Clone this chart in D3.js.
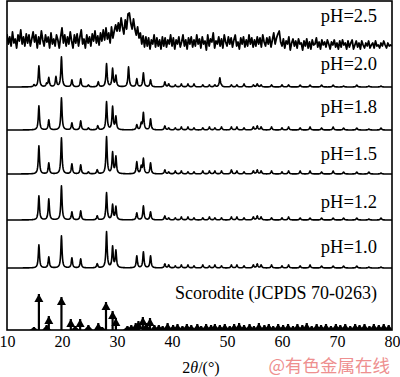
<!DOCTYPE html>
<html>
<head>
<meta charset="utf-8">
<script src="https://cdn.jsdelivr.net/npm/d3@7"></script>
<style>
  body { margin: 0; background: #fff; }
</style>
</head>
<body>
<div id="root"></div>
<script>
const width = 400;
const height = 377;

// ---- data ----
const thetaTicks = [10, 20, 30, 40, 50, 60, 70, 80];
const sampleLabels = ["pH=2.5", "pH=2.0", "pH=1.8", "pH=1.5", "pH=1.2", "pH=1.0"];
const refLabel = "Scorodite (JCPDS 70-0263)";

// pH=2.5 (amorphous), intensity read every 0.25° from 10° to 80°
const amorphousStep = 0.25;
const amorphous25 = [
	13, 3, 10, 1, 15, 4, 8, -1, 12, 6, 17, 3, 10, 1, 13, 4, 12, 1, 8, 15,
	5, 12, -1, 10, 3, 16, 7, 1, 12, 5, 10, -1, 14, 3, 8, 1, 12, 7, -1, 10,
	19, 4, 12, 1, 10, 3, 15, 6, -1, 12, 4, 13, 1, 10, 17, 3, 8, -1, 12, 4,
	10, 1, 13, 6, 16, 4, 11, 2, 14, 6, 17, 7, 19, 8, 14, 4, 20, 9, 16, 22,
	16, 24, 16, 29, 20, 13, 27, 18, 33, 34, 24, 18, 28, 18, 12, 20, 9, 14, 3, 11,
	0, 10, 1, 9, -2, 7, 3, 12, 0, 9, 1, 7, -2, 10, 1, 9, 0, 7, 3, 12,
	1, 9, -2, 7, 3, 10, 0, 5, 12, 1, 7, -2, 9, 3, 10, 0, 7, 1, 12, 3,
	8, -1, 10, 3, 6, -3, 12, 1, 8, 5, 14, -1, 6, 3, 10, 1, 8, -1, 12, 5,
	1, 10, 3, 9, 0, 7, 12, 1, 5, -2, 9, 3, 10, 0, 7, 1, 12, 3, 9, 0,
	7, 1, 10, 3, 9, 0, 12, 5, 1, 9, 3, 10, 0, 7, 14, 3, 9, 13, 16, 5,
	1, 8, -1, 6, 3, 10, -3, 4, 8, 1, 6, -1, 8, 3, 4, -3, 6, 1, 8, -1,
	5, -2, 7, 2, 3, 9, 0, 5, -2, 7, 2, 5, 0, 7, 3, -2, 5, 2, 7, 0,
	4, -2, 6, 0, 7, 2, 4, -2, 6, 0, 4, 7, -2, 2, 6, 0, 4, -2, 6, 2,
	-1, 4, 1, 6, -1, 2, 4, -1, 6, 1, 2, -1, 4, 1, 6, 2, -1, 4, 1, 2,
	1
];

// main reflections [2θ, intensity] for the crystalline samples
const major20 = [[14.9, 2], [15.8, 21], [17.2, 3], [17.6, 9], [18.9, 10], [19.9, 30], [21.8, 7], [23.4, 8], [24.8, 2], [26.6, 5], [28.1, 23], [29.2, 18], [29.8, 11], [32.1, 20], [33.6, 8], [34.8, 14], [36.1, 7], [48.7, 9]];
const major18 = [[15.8, 24], [17.6, 10], [19.9, 32], [21.8, 7], [23.4, 9], [24.8, 2], [26.5, 4], [28.1, 28], [29.2, 23], [29.8, 13], [33.6, 5], [34.4, 6], [34.8, 17], [36.1, 11]];
const major15 = [[15.8, 28], [17.6, 11], [19.9, 36], [21.8, 10], [23.4, 9], [24.8, 2], [26.4, 4], [28.1, 37], [29.2, 21], [29.8, 17], [33.6, 12], [34.4, 7], [34.8, 15], [36.1, 11]];
const major12 = [[15.8, 24], [17.6, 21], [19.9, 34], [21.8, 8], [23.4, 9], [26.4, 4], [28.1, 27], [29.2, 15], [29.8, 13], [33.6, 7], [34.8, 14], [36.1, 8]];
const major10 = [[15.8, 23], [17.6, 11], [19.9, 32], [21.8, 10], [23.4, 9], [26.4, 4], [28.1, 36], [29.2, 21], [29.8, 17], [33.6, 12], [34.8, 16], [36.1, 12]];

// weak reflections above 38°: shared positions, heights per sample
const minorPos = [38.7, 39.4, 40.6, 41.7, 42.9, 44.0, 45.6, 46.8, 47.8, 49.0, 50.8, 51.8, 53.1, 54.8, 55.5, 56.2, 58.1, 60.0, 61.2, 63.3, 65.1, 67.2, 69.3, 71.2, 73.6, 75.8, 78.0];
const minor20 = [5, 3, 2, 3, 3, 3, 2, 2, 2, 1, 2, 2, 3, 2, 3, 2, 2, 2, 2, 2, 2, 2, 2, 1, 2, 1, 1];
const minor18 = [4, 2, 2, 3, 3, 2, 2, 3, 2, 3, 3, 3, 2, 3, 4, 3, 3, 2, 3, 2, 3, 2, 3, 2, 2, 1, 2];
const minor15 = [4, 2, 3, 3, 2, 2, 3, 3, 3, 3, 4, 3, 2, 3, 4, 3, 3, 2, 3, 3, 3, 2, 3, 2, 2, 2, 1];
const minor12 = [4, 2, 2, 3, 3, 2, 2, 3, 2, 2, 3, 3, 2, 3, 4, 3, 2, 2, 3, 2, 2, 2, 2, 2, 2, 1, 2];
const minor10 = [4, 3, 2, 3, 3, 2, 3, 2, 3, 2, 3, 3, 2, 3, 4, 3, 3, 2, 3, 2, 3, 2, 2, 2, 2, 1, 1];

// scorodite standard pattern sticks [2θ, intensity]
const scoroditeSticks = [
	[14.9, 3], [15.8, 36], [17.2, 5], [17.6, 14], [19.9, 33], [21.6, 11], [22.4, 4], [23.3, 11], [24.8, 5], [26.6, 7], [27.3, 3],
	[28.0, 28], [29.2, 19], [29.8, 12], [31.9, 4], [32.6, 5], [33.4, 7], [33.9, 9], [34.7, 13], [35.3, 7], [36.0, 12], [36.8, 5],
	[37.6, 5], [38.3, 4], [39.2, 7], [40.2, 5], [41.0, 6], [41.9, 4], [42.7, 6], [43.5, 5], [44.6, 6], [45.3, 4], [46.2, 6],
	[47.1, 5], [47.8, 6], [48.7, 5], [49.6, 6], [50.5, 4], [51.3, 6], [52.2, 7], [53.1, 5], [54.1, 6], [54.9, 4], [55.8, 7],
	[56.8, 5], [57.6, 6], [58.4, 4], [59.3, 6], [60.2, 5], [61.1, 6], [62.0, 4], [62.8, 6], [63.7, 5], [64.5, 7], [65.4, 4],
	[66.3, 6], [67.1, 5], [68.0, 6], [68.9, 4], [69.8, 6], [70.6, 5], [71.5, 6], [72.4, 4], [73.3, 6], [74.1, 5], [75.0, 6],
	[75.9, 4], [76.7, 6], [77.6, 5], [78.5, 6], [79.4, 5]
];

// ---- layout ----
const frame = { left: 7, top: 1, right: 392, bottom: 330 };
const traceBase = [47, 87, 130, 174, 220, 268];
const labelY = [22, 70, 113, 160, 208, 253];
const serif = "'Liberation Serif', 'Times New Roman', serif";

const svg = d3.select("#root")
	.append("svg")
		.attr("width", width)
		.attr("height", height)
		.style("background", "#fff");

const x = d3.scaleLinear()
	.domain([10, 80])
	.range([frame.left, frame.right]);

// intensity (a.u.) -> pixel offset
const yAU = d3.scaleLinear().domain([0, 40]).range([0, 40]);

const line = d3.line()
	.x(d => x(d[0]))
	.y(d => d[1]);

// build a profile from a reflection list
function profile(peaks) {
	const pts = [];
	const g = 0.13;
	for (let t = 10; t <= 80.0001; t += 0.05) {
		let v = 0;
		peaks.forEach(p => {
			const u = (t - p[0]) / g;
			v += p[1] / (1 + u * u);
		});
		pts.push([t, v]);
	}
	return pts;
}

svg.append("clipPath").attr("id", "plot")
	.append("rect")
		.attr("x", frame.left)
		.attr("y", frame.top)
		.attr("width", frame.right - frame.left)
		.attr("height", frame.bottom - frame.top);

const plot = svg.append("g").attr("clip-path", "url(#plot)");

// amorphous trace
plot.append("path")
	.attr("d", line(amorphous25.map((v, i) => [10 + i * amorphousStep, traceBase[0] - yAU(v)])))
	.attr("fill", "none")
	.attr("stroke", "#000")
	.attr("stroke-width", 1.8)
	.attr("stroke-linejoin", "round");

// crystalline traces
const crystalline = [
	[major20, minor20], [major18, minor18], [major15, minor15], [major12, minor12], [major10, minor10]
];
crystalline.forEach((s, i) => {
	const peaks = s[0].concat(minorPos.map((p, j) => [p, s[1][j]]));
	const base = traceBase[i + 1];
	plot.append("path")
		.attr("d", line(profile(peaks).map(d => [d[0], base - yAU(d[1])])))
		.attr("fill", "none")
		.attr("stroke", "#000")
		.attr("stroke-width", 1.6)
		.attr("stroke-linejoin", "round");
});

// scorodite sticks with arrow heads
const sticks = plot.selectAll(".stick")
	.data(scoroditeSticks).enter()
	.append("g")
		.attr("class", "stick");

sticks.append("line")
	.attr("x1", d => x(d[0]))
	.attr("x2", d => x(d[0]))
	.attr("y1", frame.bottom)
	.attr("y2", d => frame.bottom - yAU(d[1]))
	.attr("stroke", "#000")
	.attr("stroke-width", 2.2);

sticks.append("path")
	.attr("d", d => {
		const cx = x(d[0]);
		const top = frame.bottom - yAU(d[1]);
		const hh = Math.min(8, yAU(d[1]));
		const hw = 4.5;
		return `M ${cx} ${top} L ${cx - hw} ${top + hh} L ${cx + hw} ${top + hh} Z`;
	})
	.attr("fill", "#000");

// frame
svg.append("rect")
	.attr("x", frame.left)
	.attr("y", frame.top)
	.attr("width", frame.right - frame.left)
	.attr("height", frame.bottom - frame.top)
	.attr("fill", "none")
	.attr("stroke", "#000")
	.attr("stroke-width", 1.6);

// tick labels
const axis = d3.axisBottom(x)
	.tickValues(thetaTicks)
	.tickSize(0)
	.tickPadding(0);

const axisG = svg.append("g")
	.attr("transform", `translate(0, ${frame.bottom})`)
	.call(axis);
axisG.select(".domain").remove();
axisG.selectAll("text")
	.style("font-family", serif)
	.style("font-size", "16px")
	.attr("fill", "#000")
	.attr("y", 17)
	.attr("dy", null);

const xTitle = svg.append("text")
	.attr("x", 201)
	.attr("y", 373)
	.attr("text-anchor", "middle")
	.style("font-family", serif)
	.style("font-size", "16px")
	.attr("fill", "#000");
xTitle.append("tspan").text("2");
xTitle.append("tspan").attr("font-style", "italic").text("θ");
xTitle.append("tspan").text("/(°)");

// sample labels
svg.selectAll(".sample")
	.data(sampleLabels).enter()
	.append("text")
		.attr("class", "sample")
		.attr("x", 377)
		.attr("y", (d, i) => labelY[i])
		.attr("text-anchor", "end")
		.style("font-family", serif)
		.style("font-size", "18.5px")
		.attr("fill", "#000")
		.text(d => d);

svg.append("text")
	.attr("x", 377)
	.attr("y", 299)
	.attr("text-anchor", "end")
	.style("font-family", serif)
	.style("font-size", "18px")
	.attr("fill", "#000")
	.text(refLabel);

// watermark
svg.append("text")
	.attr("x", 390)
	.attr("y", 372)
	.attr("text-anchor", "end")
	.style("font-family", "'Noto Sans CJK SC', sans-serif")
	.style("font-size", "17.5px")
	.attr("fill", "#ee8f8f")
	.text("@有色金属在线");
</script>
</body>
</html>
